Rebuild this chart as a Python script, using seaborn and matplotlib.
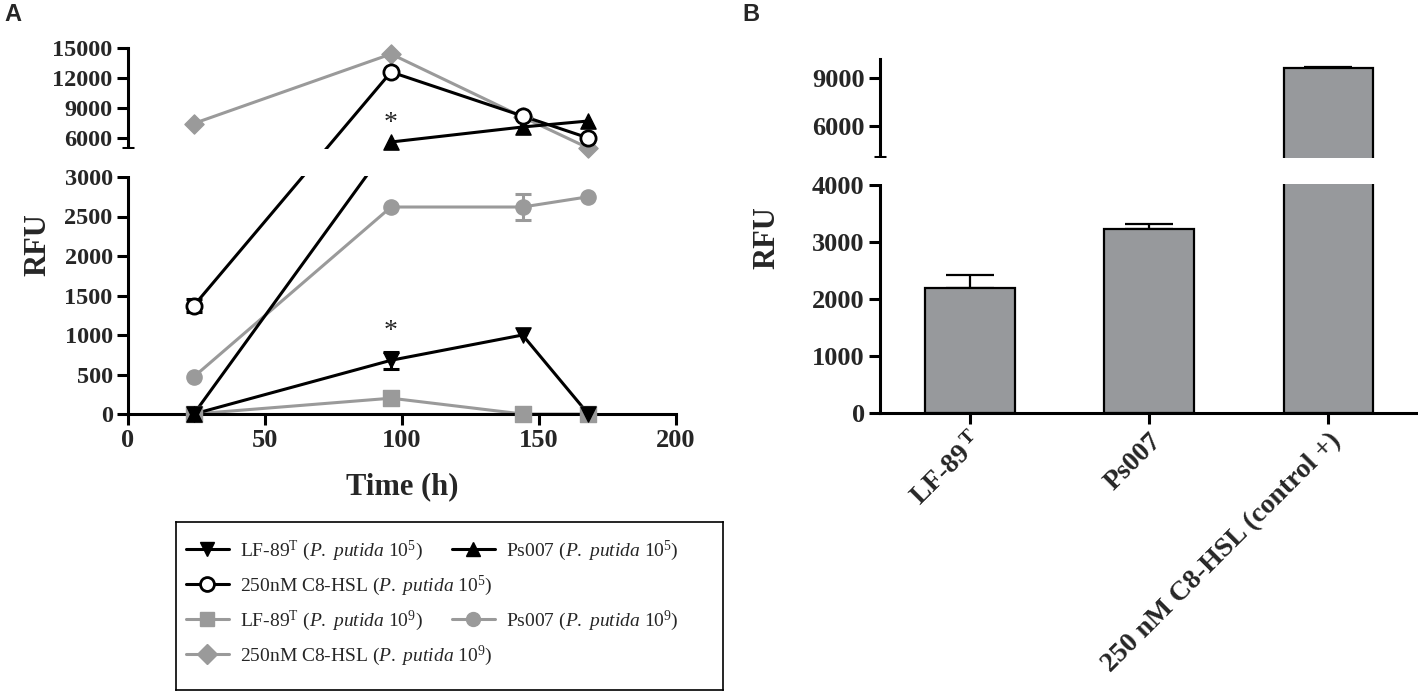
import numpy as np
import pandas as pd
import matplotlib
matplotlib.use("Agg")
import matplotlib.pyplot as plt
import seaborn as sns
from matplotlib.lines import Line2D

# ---------------- data ----------------
times = [24, 96, 144, 168]
lf89_1e5 = [0, 680, 1000, 0]
lf89_1e5_err = [0, 110, 0, 0]
ps007_1e5 = [0, 5600, 7100, 7700]
c8_1e5 = [1370, 12600, 8200, 6000]
c8_1e5_err = [80, 0, 0, 0]
lf89_1e9 = [0, 200, 0, 0]
ps007_1e9 = [470, 2620, 2620, 2750]
ps007_1e9_err = [0, 0, 160, 0]
c8_1e9 = [7450, 14400, 8100, 5000]

xticks_A = [0, 50, 100, 150, 200]
yticks_A = [0, 500, 1000, 1500, 2000, 2500, 3000, 6000, 9000, 12000, 15000]

bar_labels = ["LF-89$^{\\,\\mathbf{T}}$", "Ps007", "250 nM C8-HSL (control +)"]
bar_values = [2200, 3220, 9650]
bar_errors = [220, 100, 40]
yticks_B = [0, 1000, 2000, 3000, 4000, 6000, 9000]

leg_labels = [
    "LF-89$^{\\mathrm{T}}$ ($\\mathit{P.\\ putida}$ 10$^{5}$)",
    "Ps007 ($\\mathit{P.\\ putida}$ 10$^{5}$)",
    "250nM C8-HSL ($\\mathit{P.\\ putida}$ 10$^{5}$)",
    "LF-89$^{\\mathrm{T}}$ ($\\mathit{P.\\ putida}$ 10$^{9}$)",
    "Ps007 ($\\mathit{P.\\ putida}$ 10$^{9}$)",
    "250nM C8-HSL ($\\mathit{P.\\ putida}$ 10$^{9}$)",
]

# ---------------- style ----------------
sns.set_theme(style="ticks")
plt.rcParams["font.family"] = ["Liberation Serif", "DejaVu Serif"]
plt.rcParams["font.weight"] = "normal"
plt.rcParams["mathtext.fontset"] = "custom"
plt.rcParams["mathtext.rm"] = "Liberation Serif"
plt.rcParams["mathtext.it"] = "Liberation Serif:italic"
plt.rcParams["mathtext.bf"] = "Liberation Serif:bold"

BLACK = "#000000"
GREY = "#9a9a9a"
BARGREY = "#97999c"
LW = 2.2
YTICK = 17.5
XTICK = 19

W, H = 1418, 695
fig = plt.figure(figsize=(W / 100, H / 100), dpi=100)


def rect(l, t, r, b):
    return [l / W, 1 - b / H, (r - l) / W, (b - t) / H]


def piecewise(vals, pix):
    v = np.array(vals, float)
    p = np.array(pix, float)
    s0 = (p[1] - p[0]) / (v[1] - v[0])
    s1 = (p[-1] - p[-2]) / (v[-1] - v[-2])
    big = 1e7
    V = np.concatenate([[v[0] - big], v, [v[-1] + big]])
    P = np.concatenate([[p[0] - big * s0], p, [p[-1] + big * s1]])
    fwd = lambda y: np.interp(np.asarray(y, float), V, P)
    inv = lambda q: np.interp(np.asarray(q, float), P, V)
    return fwd, inv


def style_axis(ax, ysize, xsize):
    for s in ["top", "right"]:
        ax.spines[s].set_visible(False)
    for s in ["left", "bottom"]:
        ax.spines[s].set_linewidth(LW)
        ax.spines[s].set_color("black")
    ax.tick_params(which="major", direction="out", length=8, width=LW,
                   color="black", pad=3)
    ax.tick_params(axis="y", which="major", labelsize=ysize)
    ax.tick_params(axis="x", which="major", labelsize=xsize)
    ax.tick_params(axis="y", which="minor", direction="inout", length=9,
                   width=LW, color="black")
    ax.tick_params(axis="x", which="minor", length=0)
    ax.set_facecolor("white")
    for lbl in ax.get_xticklabels() + ax.get_yticklabels():
        lbl.set_fontweight("bold")


# ================= Panel A =================
axA = fig.add_axes(rect(128, 48, 676, 414))

series = [
    (lf89_1e9, GREY, "s", GREY, 1.0),
    (ps007_1e9, GREY, "o", GREY, 1.0),
    (c8_1e9, GREY, "D", GREY, 1.0),
    (lf89_1e5, BLACK, "v", BLACK, 1.0),
    (ps007_1e5, BLACK, "^", BLACK, 1.0),
    (c8_1e5, BLACK, "o", "white", 2.0),
]
for vals, col, mk, fc, mew in series:
    sns.lineplot(x=times, y=vals, ax=axA, color=col, linewidth=LW,
                 errorbar=None, sort=False, clip_on=False, zorder=2)

errs = [(lf89_1e5, lf89_1e5_err, BLACK), (c8_1e5, c8_1e5_err, BLACK),
        (ps007_1e9, ps007_1e9_err, GREY)]
for vals, err, col in errs:
    e = np.array(err, float)
    m = e > 0
    axA.errorbar(np.array(times)[m], np.array(vals, float)[m], yerr=e[m],
                 fmt="none", ecolor=col, elinewidth=2.2, capsize=6,
                 capthick=2.2, clip_on=False, zorder=3.5)

for vals, col, mk, fc, mew in series:
    size = 95 if mk == "D" else 120
    sns.scatterplot(x=times, y=vals, ax=axA, marker=mk, s=size, color=fc,
                    edgecolor=col, linewidth=mew, clip_on=False, zorder=4,
                    legend=False)

fA, iA = piecewise([0, 3000, 5000, 15000], [0, 237, 266, 366])
axA.set_yscale("function", functions=(fA, iA))
axA.set_ylim(0, 15000)
axA.set_xlim(0, 200)
axA.set_xticks(xticks_A)
axA.set_xticklabels([str(v) for v in xticks_A])
axA.set_yticks(yticks_A)
axA.set_yticklabels([str(v) for v in yticks_A])
axA.set_yticks([3000, 5000], minor=True)
axA.yaxis.set_minor_formatter(matplotlib.ticker.NullFormatter())
style_axis(axA, YTICK, XTICK)
axA.axhspan(3100, 4900, xmin=-0.02, xmax=1.0, color="white", zorder=2.6,
            clip_on=False, linewidth=0)
axA.set_ylabel("")
axA.set_xlabel("Time (h)", fontsize=22, fontweight="bold", labelpad=14)

axA.text(96, 1040, "*", ha="center", va="center", fontsize=20)
axA.text(96, 7450, "*", ha="center", va="center", fontsize=20)

fig.text(38 / W, 1 - 245 / H, "RFU", rotation=90, ha="center", va="center",
         fontsize=22, fontweight="bold")

# legend
legax = fig.add_axes(rect(176, 522, 723, 690))
legax.set_xticks([])
legax.set_yticks([])
legax.set_facecolor("none")
for s in legax.spines.values():
    s.set_linewidth(1.2)
    s.set_color("black")
    s.set_visible(True)


def handle(col, mk, fc, mew):
    return Line2D([], [], color=col, linewidth=LW, marker=mk, markersize=10,
                  markerfacecolor=fc, markeredgecolor=col, markeredgewidth=mew)


h_lf5 = handle(BLACK, "v", BLACK, 1.0)
h_ps5 = handle(BLACK, "^", BLACK, 1.0)
h_c85 = handle(BLACK, "o", "white", 2.0)
h_lf9 = handle(GREY, "s", GREY, 1.0)
h_ps9 = handle(GREY, "o", GREY, 1.0)
h_c89 = handle(GREY, "D", GREY, 1.0)
blank = Line2D([], [], color="none")

legprops = dict(frameon=False, loc="upper left",
                prop={"weight": "normal", "size": 14}, handlelength=2.2,
                handletextpad=0.6, labelspacing=0.55, borderpad=0,
                borderaxespad=0)
leg1 = legax.legend([h_lf5, h_c85, h_lf9, h_c89],
                    [leg_labels[0], leg_labels[2], leg_labels[3], leg_labels[5]],
                    bbox_to_anchor=((186 - 176) / 547, 0.9), **legprops)
legax.add_artist(leg1)
leg2 = legax.legend([h_ps5, blank, h_ps9, blank],
                    [leg_labels[1], leg_labels[2], leg_labels[4], leg_labels[5]],
                    bbox_to_anchor=((452 - 176) / 547, 0.9), **legprops)
for i in (1, 3):
    leg2.get_texts()[i].set_color((0, 0, 0, 0))

# ================= Panel B =================
axB = fig.add_axes(rect(880, 59, 1418, 413))
dfB = pd.DataFrame({"label": bar_labels, "value": bar_values})
sns.barplot(data=dfB, x="label", y="value", ax=axB, color=BARGREY,
            saturation=1, edgecolor="black", linewidth=1.6, width=0.5,
            errorbar=None, zorder=1)
axB.errorbar(np.arange(len(bar_values)), bar_values,
             yerr=[np.zeros(len(bar_errors)), bar_errors], fmt="none",
             ecolor="black", elinewidth=1.6, capsize=17, capthick=1.6,
             zorder=0.9)
fB, iB = piecewise([0, 4000, 4100, 10200], [0, 228, 256, 354])
axB.set_yscale("function", functions=(fB, iB))
axB.set_ylim(0, 10200)
axB.set_xlim(-0.5, 2.5)
axB.set_yticks(yticks_B)
axB.set_yticklabels([str(v) for v in yticks_B])
axB.set_yticks([4000, 4100], minor=True)
axB.yaxis.set_minor_formatter(matplotlib.ticker.NullFormatter())
axB.set_xticks(range(len(bar_labels)))
axB.set_xticklabels(bar_labels, rotation=45, ha="right",
                    rotation_mode="anchor")
style_axis(axB, 19, 20)
axB.axhspan(4005, 4095, xmin=-0.02, xmax=1.0, color="white", zorder=2.6,
            clip_on=False, linewidth=0)
axB.set_xlabel("")
axB.set_ylabel("")
fig.text(767 / W, 1 - 238 / H, "RFU", rotation=90, ha="center",
         va="center", fontsize=22, fontweight="bold")

# panel letters
fig.text(4 / W, 1 - 3 / H, "A", ha="left", va="top", fontsize=17,
         fontweight="bold", family=["Liberation Sans", "DejaVu Sans"])
fig.text(742 / W, 1 - 3 / H, "B", ha="left", va="top", fontsize=17,
         fontweight="bold", family=["Liberation Sans", "DejaVu Sans"])

fig.savefig("out.png", dpi=100, facecolor="white")
